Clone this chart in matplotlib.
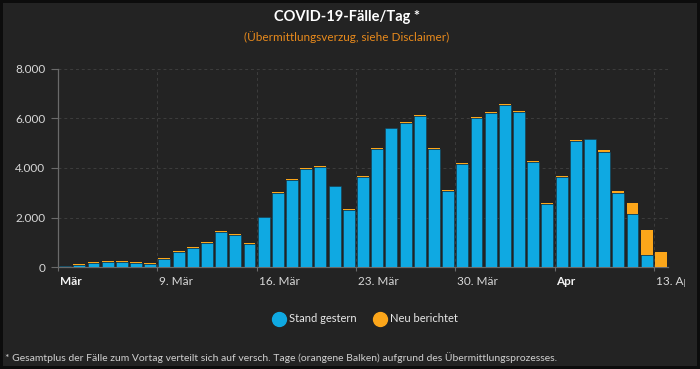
import matplotlib
matplotlib.use("Agg")
import matplotlib.pyplot as plt
import matplotlib.dates as mdates
import matplotlib.transforms as mtrans
from matplotlib.lines import Line2D
import numpy as np
import pandas as pd

plt.rcParams['font.family'] = ['Lato', 'DejaVu Sans']

# ---- data ----
dates = pd.date_range("2020-03-02", "2020-04-13", freq="D")
stand_gestern = [40, 90, 170, 210, 210, 190, 130,
                 345, 620, 765, 975, 1410, 1310, 935,
                 2010, 3005, 3530, 3970, 4045, 3260, 2320,
                 3630, 4785, 5595, 5800, 6095, 4760, 3085,
                 4150, 6000, 6230, 6540, 6245, 4235, 2535,
                 3640, 5085, 5150, 4635, 2975, 2155, 515, 0]
neu_berichtet = [30, 35, 35, 35, 35, 35, 35,
                 35, 35, 35, 35, 35, 35, 35,
                 35, 35, 35, 35, 35, 35, 35,
                 35, 35, 35, 35, 35, 35, 35,
                 35, 35, 35, 35, 35, 35, 35,
                 35, 35, 35, 70, 110, 440, 975, 630]
tick_dates = pd.to_datetime(["2020-03-02", "2020-03-09", "2020-03-16", "2020-03-23",
                             "2020-03-30", "2020-04-06", "2020-04-13"])
tick_labels = ["Mär", "9. Mär", "16. Mär", "23. Mär", "30. Mär", "Apr", "13. Apr"]
y_ticks = [0, 2000, 4000, 6000, 8000]
y_labels = ["0", "2.000", "4.000", "6.000", "8.000"]

title = "COVID-19-Fälle/Tag *"
subtitle = "(Übermittlungsverzug, siehe Disclaimer)"
footnote = ("* Gesamtplus der Fälle zum Vortag verteilt sich auf versch. Tage "
            "(orangene Balken) aufgrund des Übermittlungsprozesses.")

BG = "#232323"
BLUE = "#0fa9e2"
ORANGE = "#fca61a"

W, H = 700, 369
fig = plt.figure(figsize=(W / 100, H / 100), dpi=100)
fig.patch.set_facecolor(BG)
fig.patch.set_edgecolor("#0c0c0c")
fig.patch.set_linewidth(3)

ax = fig.add_axes([58 / W, 1 - 267.3 / H, (668 - 58) / W, (267.3 - 68.7) / H])
ax.set_facecolor(BG)

x = mdates.date2num(dates)
bw = 0.84
off = (1 - bw) / 2
ax.bar(x + off, stand_gestern, width=bw, align="edge", color=BLUE,
       edgecolor="#16384a", linewidth=0.4, zorder=3)
ax.bar(x + off, neu_berichtet, width=bw, align="edge", bottom=stand_gestern,
       color=ORANGE, linewidth=0, zorder=3)

ax.set_xlim(mdates.date2num(dates[0]), mdates.date2num(dates[-1]) + 1)
ax.set_ylim(0, 8000)

ax.set_yticks(y_ticks)
ax.set_yticklabels(y_labels)
ax.set_xticks(mdates.date2num(tick_dates))
ax.set_xticklabels(tick_labels)

ax.grid(True, color="#3d3d3d", linestyle=(0, (3, 3)), linewidth=0.7, zorder=0)
for s in ["top", "right"]:
    ax.spines[s].set_visible(False)
for s in ["left", "bottom"]:
    ax.spines[s].set_color("#6a6a6a")
    ax.spines[s].set_linewidth(0.9)

ax.tick_params(axis="y", colors="#6a6a6a", labelcolor="#d8d8d8", labelsize=8.5,
               length=5, width=0.8, pad=4)
ax.tick_params(axis="x", colors="#6a6a6a", labelcolor="#d8d8d8", labelsize=8.5,
               length=3, width=0.8, pad=3)
shift = mtrans.ScaledTranslation(2 / 100, 0, fig.dpi_scale_trans)
for lbl in ax.get_xticklabels():
    lbl.set_horizontalalignment("left")
    lbl.set_transform(lbl.get_transform() + shift)
    lbl.set_clip_box(mtrans.TransformedBbox(mtrans.Bbox.from_extents(0, 0, 685 / W, 1),
                                            fig.transFigure))
    lbl.set_clip_on(True)
    if lbl.get_text() in ("Mär", "Apr"):
        lbl.set_fontweight("bold")
        lbl.set_color("#f2f2f2")

fig.text(347 / W, 1 - 17 / H, title, ha="center", va="center", color="white",
         fontsize=10.5, fontweight="bold")
fig.text(347 / W, 1 - 37 / H, subtitle, ha="center", va="center", color="#e88a1c",
         fontsize=8.5)

handles = [Line2D([], [], marker="o", linestyle="none", markersize=10,
                  markerfacecolor=BLUE, markeredgecolor=BLUE),
           Line2D([], [], marker="o", linestyle="none", markersize=10,
                  markerfacecolor=ORANGE, markeredgecolor=ORANGE)]
leg = fig.legend(handles, ["Stand gestern", "Neu berichtet"], loc="center",
                 bbox_to_anchor=(366 / W, 1 - 319 / H), ncol=2, frameon=False,
                 fontsize=8, labelcolor="#e8e8e8", handletextpad=0.4,
                 columnspacing=1.6, handlelength=1.0)

fig.text(5 / W, 1 - 358 / H, footnote, ha="left", va="center", color="#d0d0d0",
         fontsize=7.45)

fig.savefig("out.png", dpi=100, facecolor=fig.get_facecolor(),
            edgecolor=fig.get_edgecolor())
